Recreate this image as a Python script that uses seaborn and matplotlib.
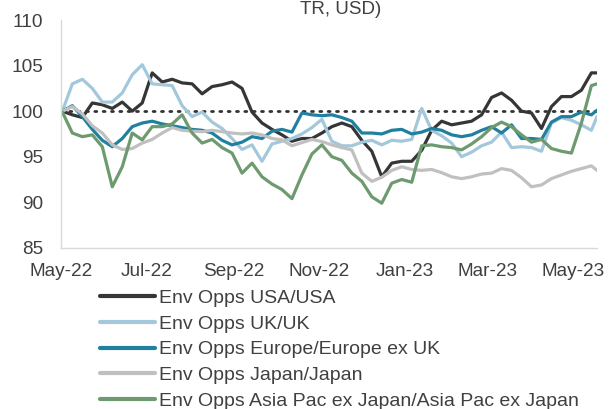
import matplotlib
matplotlib.use("Agg")
import matplotlib.pyplot as plt
import matplotlib.dates as mdates
import pandas as pd
import seaborn as sns

# weekly readings (rebased to 100)
dates = list(pd.date_range("2022-05-02", "2023-05-14", periods=54)) + [pd.Timestamp("2023-05-18")]

usa = [100.0, 99.6, 99.3, 100.9, 100.7, 100.3, 101.0, 100.0, 100.9, 104.2, 103.2, 103.5, 103.1, 103.0,
       101.9, 102.7, 102.9, 103.2, 102.5, 99.9, 98.7, 98.0, 97.4, 96.7, 97.0, 97.0, 97.6,
       98.3, 98.7, 98.3, 96.8, 95.6, 92.8, 94.3, 94.5, 94.5, 95.7, 97.9, 98.9, 98.5, 98.7,
       98.9, 99.6, 101.5, 102.0, 101.2, 100.0, 99.8, 98.1, 100.5, 101.6, 101.6, 102.3, 104.2, 104.2]
uk = [100.0, 103.0, 103.5, 102.5, 101.0, 101.0, 102.0, 104.0, 105.1, 103.0, 102.9, 102.8, 100.6, 99.4,
      99.9, 98.8, 98.1, 97.0, 95.8, 96.3, 94.5, 96.4, 96.7, 97.0, 97.5, 98.2, 99.1,
      96.7, 96.2, 96.2, 96.6, 96.8, 96.3, 96.8, 96.7, 96.9, 100.3, 97.9, 97.3, 96.5, 95.0,
      95.5, 96.2, 96.6, 97.7, 96.0, 96.1, 96.0, 95.6, 98.7, 99.3, 99.0, 98.5, 97.9, 99.4]
europe = [100.0, 100.6, 99.4, 98.0, 96.8, 96.1, 97.0, 98.3, 98.7, 98.9, 98.6, 98.4, 98.2, 98.0,
          97.9, 97.6, 96.8, 96.3, 96.6, 97.2, 97.0, 97.8, 98.0, 97.7, 99.8, 99.6, 99.5,
          99.6, 99.3, 98.9, 97.6, 97.6, 97.5, 97.9, 98.0, 97.5, 97.7, 98.1, 97.9, 97.4, 97.2,
          97.4, 97.9, 98.3, 97.6, 98.5, 97.0, 97.0, 96.9, 98.8, 99.4, 99.4, 99.9, 99.6, 100.1]
japan = [100.0, 100.5, 99.7, 98.4, 97.6, 96.3, 95.8, 95.9, 96.5, 96.9, 97.6, 98.2, 97.9, 97.8,
         97.75, 97.9, 97.75, 97.6, 97.5, 97.6, 97.4, 97.0, 96.85, 96.2, 96.55, 96.9, 96.66,
         96.3, 96.0, 95.75, 93.2, 92.3, 92.75, 93.5, 93.9, 93.6, 93.5, 93.6, 93.25, 92.8, 92.6,
         92.8, 93.1, 93.2, 93.7, 93.5, 92.7, 91.7, 91.9, 92.6, 93.0, 93.4, 93.7, 94.0, 93.5]
apac = [99.9, 97.6, 97.2, 97.4, 96.1, 91.7, 93.9, 97.6, 96.85, 98.3, 98.3, 98.6, 99.6, 97.6,
        96.5, 96.9, 96.0, 95.4, 93.2, 94.3, 92.8, 92.0, 91.4, 90.4, 93.0, 95.3, 96.3,
        95.0, 94.6, 93.2, 92.3, 90.6, 89.9, 92.1, 92.5, 92.2, 96.2, 96.3, 96.1, 96.0, 95.75,
        96.4, 97.2, 98.2, 98.8, 98.3, 97.4, 96.6, 96.9, 95.9, 95.6, 95.4, 98.7, 102.8, 103.0]

names = ["Env Opps USA/USA", "Env Opps UK/UK", "Env Opps Europe/Europe ex UK",
         "Env Opps Japan/Japan", "Env Opps Asia Pac ex Japan/Asia Pac ex Japan"]
colors = ["#363636", "#a3c8db", "#21809f", "#c0c0c0", "#6e9a6f"]

frames = []
for name, vals in zip(names, [usa, uk, europe, japan, apac]):
    frames.append(pd.DataFrame({"date": dates, "value": vals, "fund": name}))
df = pd.concat(frames, ignore_index=True)

sns.set_style("white")
plt.rcParams["font.family"] = ["Liberation Sans", "DejaVu Sans"]

fig = plt.figure(figsize=(6.14, 4.09), dpi=100)
ax = fig.add_axes([0.0993, 0.394, 0.873, 0.557])

start, end = pd.Timestamp("2022-05-01"), pd.Timestamp("2023-05-18")
ax.plot([start, end], [100, 100], color="#333333", lw=2.0,
        linestyle=(0, (0.7, 2.3)), dash_capstyle="round", zorder=1)

sns.lineplot(data=df, x="date", y="value", hue="fund", hue_order=names,
             palette=colors, linewidth=2.3, ax=ax, legend=False, zorder=2)

ax.set_xlim(start, end)
ax.set_ylim(85, 110)
ax.set_yticks([85, 90, 95, 100, 105, 110])
ax.xaxis.set_major_locator(mdates.MonthLocator(bymonth=[1, 3, 5, 7, 9, 11]))
ax.xaxis.set_major_formatter(mdates.DateFormatter("%b-%y"))
ax.set_xlabel("")
ax.set_ylabel("")
ax.tick_params(axis="y", length=0, pad=13, labelsize=13.7, colors="#404040")
ax.tick_params(axis="x", length=0, pad=11, labelsize=13.7, colors="#404040")
for s in ["top", "right"]:
    ax.spines[s].set_visible(False)
for s in ["left", "bottom"]:
    ax.spines[s].set_color("#d9d9d9")
    ax.spines[s].set_linewidth(1.0)

handles = [plt.Line2D([], [], color=c, lw=3) for c in colors]
fig.legend(handles, names, loc="upper left", bbox_to_anchor=(0.163, 0.293),
           frameon=False, fontsize=14, handlelength=2.85, handletextpad=0.2,
           labelspacing=0.42, borderpad=0, borderaxespad=0, labelcolor="#404040")

fig.text(0.555, 0.966, "TR, USD)", ha="center", va="baseline", fontsize=13.5, color="#404040")

fig.savefig("out.png", dpi=100)
